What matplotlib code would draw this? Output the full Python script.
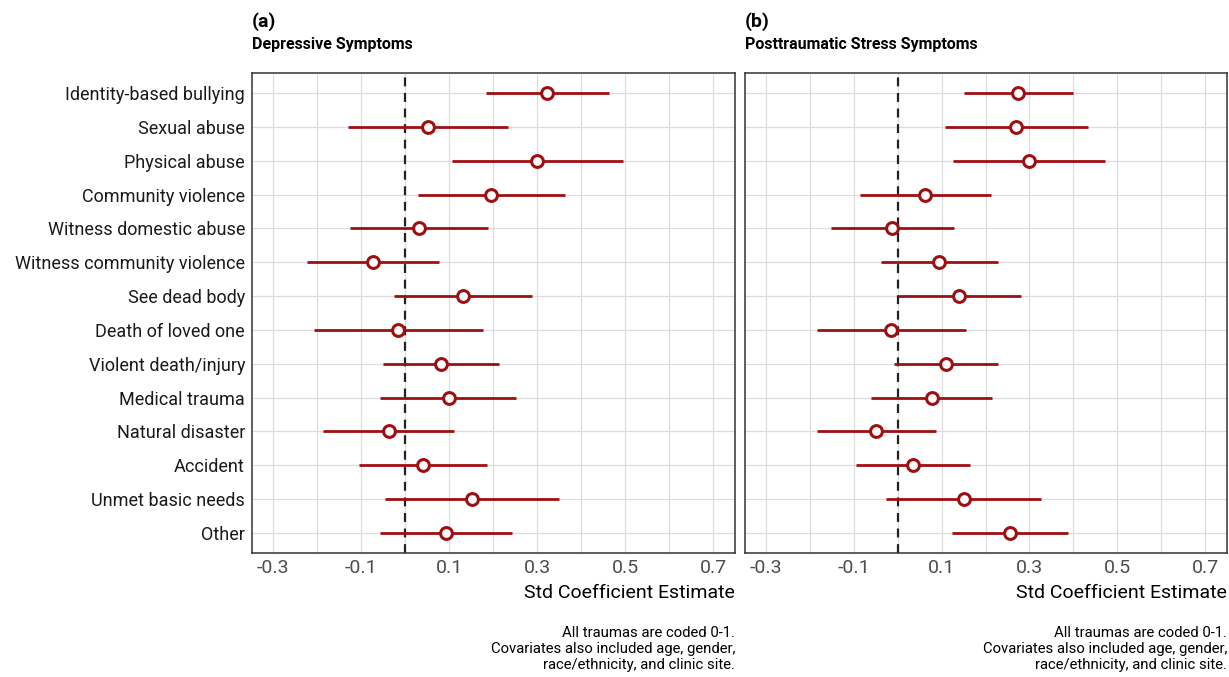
import numpy as np
import matplotlib
matplotlib.use("Agg")
import matplotlib.pyplot as plt

plt.rcParams['font.family'] = ['Roboto', 'DejaVu Sans']

traumas = ["Identity-based bullying", "Sexual abuse", "Physical abuse", "Community violence",
           "Witness domestic abuse", "Witness community violence", "See dead body",
           "Death of loved one", "Violent death/injury", "Medical trauma", "Natural disaster",
           "Accident", "Unmet basic needs", "Other"]

# depressive symptoms
dep_est = [0.323, 0.053, 0.300, 0.195, 0.032, -0.073, 0.131, -0.016, 0.082, 0.099, -0.037, 0.041, 0.153, 0.093]
dep_lo = [0.183, -0.130, 0.106, 0.029, -0.125, -0.223, -0.026, -0.206, -0.050, -0.056, -0.186, -0.105, -0.046, -0.056]
dep_hi = [0.464, 0.235, 0.496, 0.363, 0.189, 0.077, 0.289, 0.176, 0.214, 0.253, 0.111, 0.187, 0.351, 0.242]

# posttraumatic stress symptoms
pts_est = [0.275, 0.270, 0.298, 0.063, -0.012, 0.094, 0.140, -0.015, 0.109, 0.077, -0.049, 0.035, 0.150, 0.255]
pts_lo = [0.150, 0.108, 0.126, -0.086, -0.151, -0.039, 0.000, -0.185, -0.008, -0.061, -0.184, -0.096, -0.027, 0.123]
pts_hi = [0.400, 0.433, 0.471, 0.213, 0.129, 0.228, 0.281, 0.156, 0.228, 0.214, 0.086, 0.165, 0.326, 0.387]

panels = [("(a)", "Depressive Symptoms", dep_est, dep_lo, dep_hi),
          ("(b)", "Posttraumatic Stress Symptoms", pts_est, pts_lo, pts_hi)]

W, H = 1229, 677
fig = plt.figure(figsize=(W / 100, H / 100), dpi=100)
red = '#9E0F12'
caption = "All traumas are coded 0-1.\nCovariates also included age, gender,\nrace/ethnicity, and clinic site."

lefts = [252, 745]
rights = [735, 1227]
top, bottom = 73, 553
ypos = np.arange(len(traumas), 0, -1)

for i, (tag, title, est, lo, hi) in enumerate(panels):
    l, r = lefts[i], rights[i]
    ax = fig.add_axes([l / W, (H - bottom) / H, (r - l) / W, (bottom - top) / H])
    ax.set_xlim(-0.348, 0.75)
    ax.set_ylim(0.4, len(traumas) + 0.6)
    ax.set_xticks([-0.3, -0.1, 0.1, 0.3, 0.5, 0.7])
    ax.set_xticklabels(["-0.3", "-0.1", "0.1", "0.3", "0.5", "0.7"])
    ax.set_xticks(np.arange(-0.2, 0.75, 0.2), minor=True)
    ax.set_yticks(ypos)
    if i == 0:
        ax.set_yticklabels(traumas)
    else:
        ax.set_yticklabels([])
    ax.grid(True, which='both', color='#DDDDDD', lw=0.9)
    ax.set_axisbelow(True)
    ax.tick_params(axis='both', which='both', length=0)
    ax.tick_params(axis='x', labelsize=14, labelcolor='#4D4D4D', pad=4)
    ax.tick_params(axis='y', labelsize=13, labelcolor='#1A1A1A', pad=5)
    for s in ax.spines.values():
        s.set_color('#333333')
        s.set_linewidth(1.1)

    ax.axvline(0, color='#222222', ls=(0, (4, 3)), lw=1.6, zorder=2)
    ax.hlines(ypos, lo, hi, color=red, lw=2, zorder=3)
    ax.plot(est, ypos, 'o', ms=8.5, mfc='white', mec=red, mew=2.2, zorder=4)

    ax.set_xlabel("Std Coefficient Estimate", fontsize=14, loc='right', labelpad=5)

    fig.text(l / W, 1 - 45 / H, title, fontsize=11.5, fontweight='bold', ha='left', va='center')
    fig.text(l / W, 1 - 22 / H, tag, fontsize=14, fontweight='bold', ha='left', va='center')
    fig.text(r / W, 1 - 649 / H, caption, fontsize=10.7, ha='right', va='center', linespacing=1.15)

fig.savefig("out.png", dpi=100)
